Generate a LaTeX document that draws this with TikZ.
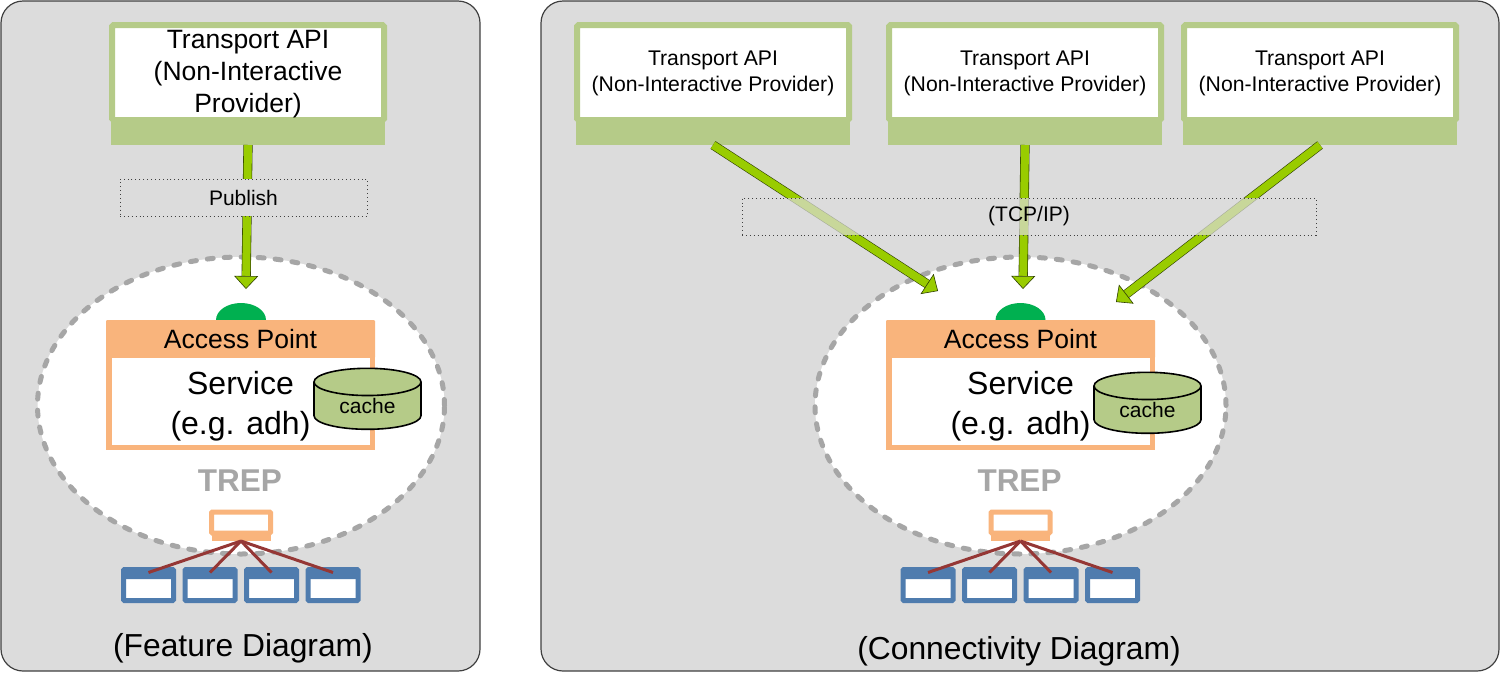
\documentclass[tikz,border=0pt]{standalone}
\usepackage{fontspec}
\setmainfont{Liberation Sans}
\usetikzlibrary{positioning, shapes.geometric, arrows.meta}

\definecolor{panelgray}{HTML}{DCDCDC}
\definecolor{paneledge}{HTML}{404040}
\definecolor{provgreen}{HTML}{B5CB88}
\definecolor{arrowgreen}{HTML}{99CC00}
\definecolor{arrowedge}{HTML}{2F4000}
\definecolor{aporange}{HTML}{F9B47C}
\definecolor{apgreen}{HTML}{00B050}
\definecolor{trepgray}{HTML}{A6A6A6}
\definecolor{clientblue}{HTML}{4F7CAE}
\definecolor{linkred}{HTML}{953735}

\begin{document}
\begin{tikzpicture}[
  x=1pt, y=-1pt,
  every node/.style={outer sep=0pt, inner sep=0pt, text=black, align=center},
  % Node Styles
  panel/.style={rectangle, rounded corners=22pt, draw=paneledge, line width=1.2pt, fill=panelgray},
  bigprovider/.style={rectangle, rounded corners=1.5pt, draw=provgreen, line width=6pt, fill=white, minimum width=272pt, minimum height=95pt, font=\fontsize{26.5}{32}\selectfont},
  provider/.style={bigprovider, font=\fontsize{21.2}{26}\selectfont},
  provbase/.style={rectangle, fill=provgreen, minimum width=274pt, minimum height=25pt},
  cloud/.style={ellipse, draw=trepgray, line width=5pt, line cap=round, dash pattern=on 6pt off 11pt, fill=white, minimum width=407pt, minimum height=297pt},
  bump/.style={ellipse, fill=apgreen, minimum width=50pt, minimum height=34pt},
  aphead/.style={rectangle, rounded corners=1pt, fill=aporange, minimum width=269pt, minimum height=38pt, font=\fontsize{26.5}{32}\selectfont},
  service/.style={rectangle, draw=aporange, line width=5.5pt, fill=white, minimum width=263.5pt, minimum height=92.25pt, font=\fontsize{32}{39.5}\selectfont},
  cache/.style={cylinder, shape border rotate=90, aspect=.486, draw=black, line width=1.6pt, fill=provgreen, cylinder uses custom fill, cylinder body fill=provgreen, cylinder end fill=provgreen, minimum width=107pt, minimum height=61pt, font=\fontsize{21}{25}\selectfont},
  trep/.style={font=\fontsize{31.5}{36}\selectfont\bfseries, text=trepgray},
  terminal/.style={rectangle, rounded corners=1pt, draw=aporange, line width=5pt, fill=white, minimum width=59pt, minimum height=21pt},
  termbase/.style={rectangle, fill=aporange, minimum width=59pt, minimum height=8pt},
  client/.style={rectangle, rounded corners=1pt, draw=clientblue, line width=5pt, fill=white, minimum width=50pt, minimum height=31pt, path picture={\fill[clientblue] (path picture bounding box.north west) rectangle ([yshift=-9.5pt]path picture bounding box.north east);}},
  netbox/.style={rectangle, draw=black!75, line width=.8pt, dash pattern=on .9pt off 3pt, fill=panelgray, font=\fontsize{21}{25}\selectfont},
  caption/.style={font=\fontsize{31.8}{36}\selectfont},
  % Arrow Styles
  flow/.style={draw=arrowedge, line width=.6pt, double=arrowgreen, double distance=8pt, -{Triangle[length=13pt, width=24pt, fill=arrowgreen]}},
  link/.style={draw=linkred, line width=3pt}
]
\useasboundingbox (0,0) rectangle (1501,673);

% Panels
\node[panel, minimum width=479pt, minimum height=670pt] (FeaturePanel) at (240.5,336) {};
\node[panel, minimum width=958pt, minimum height=670pt] (ConnPanel) at (1020,336) {};

% Feature Diagram
\node[cloud] (FCloud) at (241,405.5) {};
\node[bigprovider] (FProvider) at (248,72.5) {\rule{0pt}{21.5pt}Transport API\\(Non-Interactive\\Provider)};
\node[provbase, below=0pt of FProvider] (FBase) {};
\node[bump] (FBump) at (241,320) {};
\node[aphead] (FAccess) at (240.5,339) {Access Point};
\node[service, below=-2.75pt of FAccess] (FService) {\rule{0pt}{33.2pt}Service\\(e.g. adh)};
\node[cache] (FCache) at (367.5,406) {cache};
\node[trep] (FTrep) at (240,481) {TREP};
\node[terminal] (FTerm) at (241,522.5) {};
\node[termbase, below=0pt of FTerm] (FTermBase) {};
\node[client] (FClientA) at (148.5,585) {};
\node[client, right=11.5pt of FClientA] (FClientB) {};
\node[client, right=11.5pt of FClientB] (FClientC) {};
\node[client, right=11.5pt of FClientC] (FClientD) {};
\node[caption] (FCaption) at (243,648) {(Feature Diagram)};
\coordinate (FTip) at (246,289);

% Connectivity Diagram
\node[cloud, minimum width=411pt] (CCloud) at (1020.5,405.5) {};
\node[provider] (CProviderA) at (713,72.5) {\rule{0pt}{16.5pt}Transport API\\(Non-Interactive Provider)};
\node[provider, right=40pt of CProviderA] (CProviderB) {\rule{0pt}{16.5pt}Transport API\\(Non-Interactive Provider)};
\node[provider, right=23pt of CProviderB] (CProviderC) {\rule{0pt}{16.5pt}Transport API\\(Non-Interactive Provider)};
\node[provbase, below=0pt of CProviderA] (CBaseA) {};
\node[provbase, below=0pt of CProviderB] (CBaseB) {};
\node[provbase, below=0pt of CProviderC] (CBaseC) {};
\node[bump] (CBump) at (1020.5,320) {};
\node[aphead] (CAccess) at (1020.5,339) {Access Point};
\node[service, below=-2.75pt of CAccess] (CService) {\rule{0pt}{33.2pt}Service\\(e.g. adh)};
\node[cache] (CCache) at (1147.5,410) {cache};
\node[trep] (CTrep) at (1019.5,481) {TREP};
\node[terminal] (CTerm) at (1020.5,522.5) {};
\node[termbase, below=0pt of CTerm] (CTermBase) {};
\node[client] (CClientA) at (928,585) {};
\node[client, right=11.5pt of CClientA] (CClientB) {};
\node[client, right=11.5pt of CClientB] (CClientC) {};
\node[client, right=11.5pt of CClientC] (CClientD) {};
\node[caption] (CCaption) at (1019,651) {(Connectivity Diagram)};
\coordinate (CTipA) at (938,291);
\coordinate (CTipB) at (1023,289);
\coordinate (CTipC) at (1116,302);

% Arrows
\draw[flow] (FBase.south) -- (FTip);
\draw[flow] (CBaseA.south) -- (CTipA);
\draw[flow] (CBaseB.south) -- (CTipB);
\draw[flow] (CBaseC.south) -- (CTipC);

% Links
\draw[link] (FTermBase.south) -- ([yshift=-3pt]FClientA.north);
\draw[link] (FTermBase.south) -- ([yshift=-3pt]FClientB.north);
\draw[link] (FTermBase.south) -- ([yshift=-3pt]FClientC.north);
\draw[link] (FTermBase.south) -- ([yshift=-3pt]FClientD.north);
\draw[link] (CTermBase.south) -- ([yshift=-3pt]CClientA.north);
\draw[link] (CTermBase.south) -- ([yshift=-3pt]CClientB.north);
\draw[link] (CTermBase.south) -- ([yshift=-3pt]CClientC.north);
\draw[link] (CTermBase.south) -- ([yshift=-3pt]CClientD.north);

% Network boxes sit over the arrows
\node[netbox, minimum width=247pt, minimum height=37pt] (Publish) at (243.5,197.5) {Publish};
\node[netbox, fill opacity=.7, text opacity=1, minimum width=574pt, minimum height=37pt] (TcpIp) at (1029,216.5) {(TCP/IP)};

\end{tikzpicture}
\end{document}
